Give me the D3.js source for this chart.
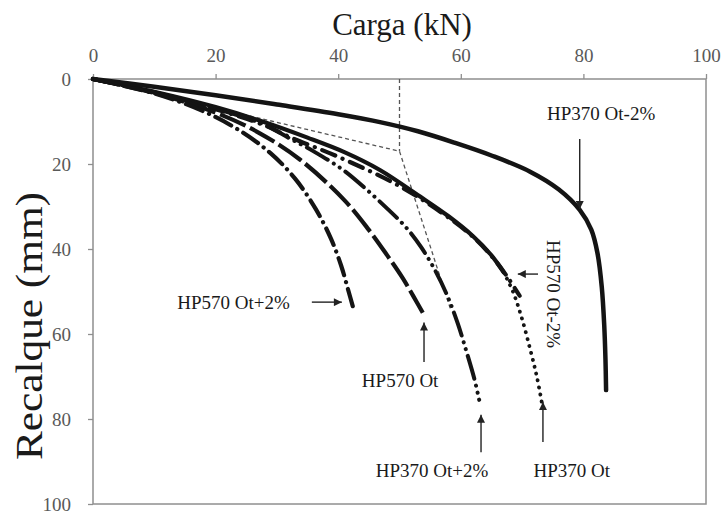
<!DOCTYPE html>
<html>
<head>
<meta charset="utf-8">
<script src="https://cdn.jsdelivr.net/npm/d3@7"></script>
<style>
  html, body { margin: 0; padding: 0; background: #fff; }
  svg { display: block; }
</style>
</head>
<body>
<svg id="chart" width="721" height="514" font-family="'Liberation Serif', 'Times New Roman', serif"></svg>
<script>
// Load (kN) vs settlement (mm) curves, [carga, recalque]
const hp370OtMinus2 = [[0,0],[10,1.8],[20,3.8],[30,6.0],[40,8.3],[47,10.2],[53,12.3],[59,15],[65,18],[71.3,21.8],[76,26],[79.4,30.8],[81.3,35.5],[82.3,41],[83,49],[83.4,58],[83.6,66],[83.7,73.2]];
const hp370Ot = [[0,0],[10,3.0],[20,6.6],[26.8,9.6],[35,13.8],[41,17.2],[46.8,21.4],[53.3,27.6],[58,32.3],[62,37],[65,41.5],[67,45.5],[68.5,50],[69.9,56],[71.3,63.5],[72.4,70],[73.2,76]];
const hp570OtMinus2 = [[0,0],[10,3.1],[20,7.1],[28,10.9],[32,13.6],[40,18.3],[50,25.2],[58,32.6],[62.5,37.8],[65.5,42.5],[67.8,47],[69.6,51]];
const hp370OtPlus2 = [[0,0],[10,3.2],[20,7.0],[27.7,10.6],[32,13.9],[36.2,17.2],[40.8,21.4],[44.7,26.1],[48,30.5],[51,34.8],[53.5,39.5],[55.8,45],[57.8,51],[59.5,57.5],[61,64.5],[62.2,70.5],[63,75.5]];
const hp570Ot = [[0,0],[10,3.3],[20,7.9],[27,12.6],[33.8,19],[41,28.5],[45,35.5],[48,41.5],[50.5,46.8],[52.3,51.2],[53.8,55]];
const hp570OtPlus2 = [[0,0],[10,3.4],[18,7.6],[24,12.2],[29,17.5],[33,23.5],[36.3,30.5],[38.8,37.5],[40.5,44],[41.7,50],[42.4,53.6]];

// Dashed reference construction
const refSlope = [[0,0],[50,17],[58.4,54.5]];
const refVertical = [[50,0],[50,17]];

const xTicks = [0, 20, 40, 60, 80, 100];
const yTicks = [0, 20, 40, 60, 80, 100];

// Curve annotations: label text, label anchor (kN, mm), arrow from -> tip (kN, mm)
const annotations = [
  { text: "HP370 Ot-2%", at: [82.9, 8.0], anchor: "middle", rotate: 0, from: [79.4, 14.1], to: [79.4, 30.6] },
  { text: "HP570 Ot-2%", at: [75.2, 50.6], anchor: "middle", rotate: 90, from: [72.6, 45.9], to: [69.3, 45.9] },
  { text: "HP570 Ot+2%", at: [32.1, 52.5], anchor: "end", rotate: 0, from: [35.7, 52.5], to: [40.6, 52.5] },
  { text: "HP570 Ot", at: [50.1, 70.8], anchor: "middle", rotate: 0, from: [54.0, 66.6], to: [54.0, 57.3] },
  { text: "HP370 Ot+2%", at: [55.3, 92.0], anchor: "middle", rotate: 0, from: [63.3, 87.8], to: [63.3, 79.0] },
  { text: "HP370 Ot", at: [78.1, 92.0], anchor: "middle", rotate: 0, from: [73.4, 85.4], to: [73.4, 76.0] }
];

const serif = "'Liberation Serif', 'Times New Roman', serif";
const svg = d3.select("#chart");
const x = d3.scaleLinear().domain([0, 100]).range([93, 706]);
const y = d3.scaleLinear().domain([0, 100]).range([79, 504]);

// Axes
const axisColor = "#8f8f8f";
const labelColor = "#595959";

const gx = svg.append("g").attr("transform", `translate(0,${y(0)})`)
  .call(d3.axisTop(x).tickValues(xTicks).tickSize(5).tickPadding(12).tickFormat(d3.format("d")));
const gy = svg.append("g").attr("transform", `translate(${x(0)},0)`)
  .call(d3.axisLeft(y).tickValues(yTicks).tickSize(5).tickPadding(17).tickFormat(d3.format("d")));
[gx, gy].forEach(g => {
  g.attr("font-family", serif).attr("font-size", 19);
  g.select(".domain").remove();
  g.selectAll(".tick line").attr("stroke", axisColor).attr("stroke-width", 1.3);
  g.selectAll(".tick text").attr("fill", labelColor).style("font-family", serif);
});

// Plot frame
svg.append("rect")
  .attr("x", x(0)).attr("y", y(0))
  .attr("width", x(100) - x(0)).attr("height", y(100) - y(0))
  .attr("fill", "none").attr("stroke", axisColor).attr("stroke-width", 1.5);

// Axis titles
svg.append("text")
  .attr("x", 402).attr("y", 35)
  .attr("text-anchor", "middle")
  .attr("fill", "#1a1a1a")
  .style("font-family", serif)
  .attr("font-size", 31)
  .text("Carga (kN)");

svg.append("text")
  .attr("transform", "translate(42,326) rotate(-90)")
  .attr("text-anchor", "middle")
  .attr("fill", "#1a1a1a")
  .style("font-family", serif)
  .attr("textLength", 268)
  .attr("lengthAdjust", "spacingAndGlyphs")
  .attr("font-size", 38)
  .text("Recalque (mm)");

// Dashed reference lines
const lineStraight = d3.line().x(d => x(d[0])).y(d => y(d[1]));
[refSlope, refVertical].forEach(pts => {
  svg.append("path")
    .attr("d", lineStraight(pts))
    .attr("fill", "none")
    .attr("stroke", "#555")
    .attr("stroke-width", 1.3)
    .attr("stroke-dasharray", "4,3");
});

// Curves
const curve = d3.line().x(d => x(d[0])).y(d => y(d[1])).curve(d3.curveCatmullRom.alpha(0.5));
const ink = "#141414";

function drawCurve(pts, dash, cap, width) {
  svg.append("path")
    .attr("d", curve(pts))
    .attr("fill", "none")
    .attr("stroke", ink)
    .attr("stroke-width", width)
    .attr("stroke-linecap", cap)
    .attr("stroke-linejoin", "round")
    .attr("stroke-dasharray", dash);
}

// HP370 Ot: continuous up to ~46 mm, dotted tail
const splitMm = 46;
drawCurve(hp370Ot.filter(d => d[1] <= splitMm), null, "round", 4.2);
drawCurve(hp370Ot.filter((d, i, a) => d[1] >= splitMm || (a[i + 1] && a[i + 1][1] > splitMm)), "0.1,7", "round", 3.8);

drawCurve(hp570OtMinus2, "14,8,0.1,8", "round", 4.2);
drawCurve(hp370OtPlus2, "24,7,0.1,7,0.1,7", "round", 4);
drawCurve(hp570Ot, "28,5", "butt", 4.2);
drawCurve(hp570OtPlus2, "18,7,0.1,7", "round", 4.2);
drawCurve(hp370OtMinus2, null, "round", 4.5);

// Arrowhead marker
svg.append("defs").append("marker")
  .attr("id", "head")
  .attr("viewBox", "0 0 10 10")
  .attr("refX", 10).attr("refY", 5)
  .attr("markerWidth", 9).attr("markerHeight", 8)
  .attr("markerUnits", "userSpaceOnUse")
  .attr("orient", "auto")
  .append("path")
  .attr("d", "M0,0 L10,5 L0,10 Z")
  .attr("fill", "#222");

// Annotations
annotations.forEach(a => {
  svg.append("line")
    .attr("x1", x(a.from[0])).attr("y1", y(a.from[1]))
    .attr("x2", x(a.to[0])).attr("y2", y(a.to[1]))
    .attr("stroke", "#222").attr("stroke-width", 1.4)
    .attr("marker-end", "url(#head)");
  svg.append("text")
    .attr("transform", `translate(${x(a.at[0])},${y(a.at[1])}) rotate(${a.rotate})`)
    .attr("text-anchor", a.anchor)
    .attr("dy", "0.35em")
    .attr("fill", "#1a1a1a")
    .style("font-family", serif)
    .attr("font-size", 19)
    .text(a.text);
});
</script>
</body>
</html>
